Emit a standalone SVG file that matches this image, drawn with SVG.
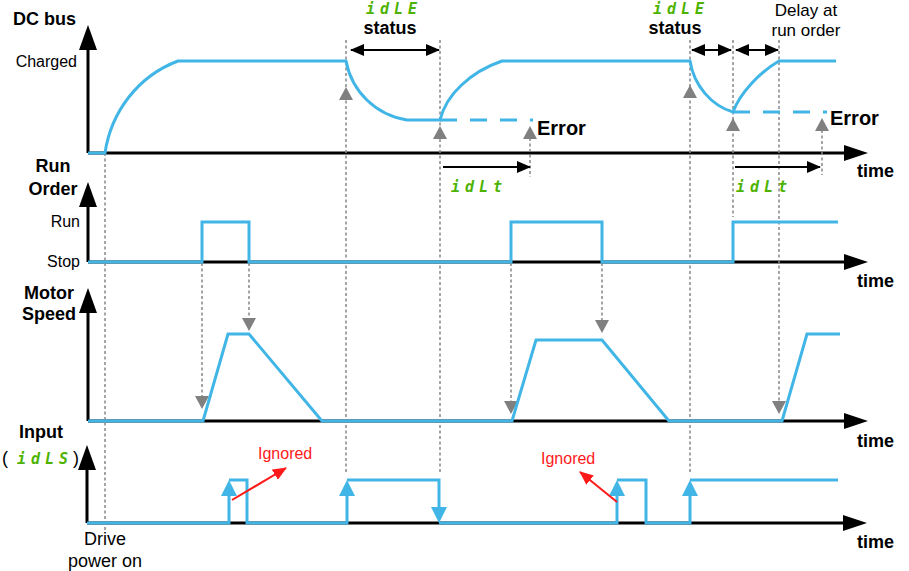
<svg xmlns="http://www.w3.org/2000/svg" xmlns:xlink="http://www.w3.org/1999/xlink" width="909" height="571" viewBox="0 0 909 571">
<style>
text{font-family:"Liberation Sans",Arial,sans-serif;fill:#000}
.b{font-weight:bold;font-size:18px}
.r{font-size:16px}
.rl{font-size:18px}
.err{font-weight:bold;font-size:20px}
.red{fill:#ff1a1a;font-size:16px}
.seg{font-family:"DejaVu Sans Mono","Liberation Mono",monospace;font-style:italic;font-weight:bold;font-size:15px;fill:#4db300;letter-spacing:5px}
.ax{stroke:#000;stroke-width:3;fill:none}
.sig{stroke:#41b6e6;stroke-width:3;fill:none;stroke-linejoin:miter}
.dash{stroke:#41b6e6;stroke-width:3;fill:none;stroke-dasharray:17 13}
.g{stroke:#888;stroke-width:1.5;fill:none;stroke-dasharray:3 2.5}
.arr{stroke:#000;stroke-width:2;fill:none}
.ra{stroke:#ff1a1a;stroke-width:2;fill:none}
.gt{fill:#808080}
.bt{fill:#41b6e6}
.kt{fill:#000}
</style>
<defs>
<polygon id="axv" points="0,0 -9,25 9,25"/>
<polygon id="axh" points="0,0 -24,-8 -24,8"/>
<polygon id="gup" points="0,0 -7,13 7,13"/>
<polygon id="gdn" points="0,0 -7,-13 7,-13"/>
<polygon id="bup" points="0,0 -8,16 8,16"/>
<polygon id="bdn" points="0,0 -8,-16 8,-16"/>
<marker id="ka" markerUnits="userSpaceOnUse" markerWidth="14" markerHeight="12" viewBox="0 0 14 12" refX="13" refY="6" orient="auto-start-reverse"><path d="M0,0 L14,6 L0,12 z" fill="#000"/></marker>
<marker id="ra" markerUnits="userSpaceOnUse" markerWidth="14" markerHeight="12" viewBox="0 0 14 12" refX="13" refY="6" orient="auto"><path d="M0,0 L14,6 L0,12 z" fill="#ff1a1a"/></marker>
</defs>

<!-- axes -->
<g id="axes">
<path class="ax" d="M88,153 V40 M88,153 H850"/>
<use href="#axv" x="88" y="25" class="kt"/><use href="#axh" x="868" y="153" class="kt"/>
<path class="ax" d="M88,262 V200 M88,262 H850"/>
<use href="#axv" x="88" y="182" class="kt"/><use href="#axh" x="868" y="262" class="kt"/>
<path class="ax" d="M88,421 V300 M88,421 H850"/>
<use href="#axv" x="88" y="288" class="kt"/><use href="#axh" x="868" y="421" class="kt"/>
<path class="ax" d="M87,523 V460 M87,523 H850"/>
<use href="#axv" x="87" y="445" class="kt"/><use href="#axh" x="867" y="523" class="kt"/>
</g>

<!-- guide lines -->
<g id="guides">
<path class="g" d="M105,153 V532 M346,40 V473 M440,40 V473 M530,138 V177 M690,40 V473 M733,40 V217 M779,40 V413 M822,130 V175 M202,263 V397 M249,263 V318 M511,263 V402 M602,263 V321"/>
<use href="#gup" x="346" y="87" class="gt"/>
<use href="#gup" x="440" y="126" class="gt"/>
<use href="#gup" x="530" y="126" class="gt"/>
<use href="#gup" x="690" y="85" class="gt"/>
<use href="#gup" x="733" y="118" class="gt"/>
<use href="#gup" x="822" y="118" class="gt"/>
<use href="#gdn" x="202" y="409" class="gt"/>
<use href="#gdn" x="249" y="331" class="gt"/>
<use href="#gdn" x="511" y="414" class="gt"/>
<use href="#gdn" x="602" y="333" class="gt"/>
<use href="#gdn" x="779" y="414" class="gt"/>
</g>

<!-- DC bus signal -->
<g id="dcbus">
<path class="sig" d="M88,153 H105 C111,112 138,76 178,61 H346 C352,92 376,115 407,120 H440 C446,95 470,72 502,61 H690 C694,86 712,106 733,112 C740,93 760,72 779,61 H836"/>
<path class="dash" d="M440,120 H533"/>
<path class="dash" d="M733,112 H827"/>
</g>

<!-- Run order -->
<g id="runorder">
<path class="sig" d="M88,262 H202 V222 H249 V262 H511 V222 H602 V262 H733 V222 H838"/>
</g>

<!-- Motor speed -->
<g id="motor">
<path class="sig" d="M88,421 H203 L228,334 H249 L322,421 H512 L536,340 H602 L669,421 H782 L807,334 H840"/>
</g>

<!-- Input -->
<g id="input">
<path class="sig" d="M87,523 H229 V490 M229,480 H247 V523 H347 V490 M347,480 H439 V515 M439,523 H617 V490 M617,480 H646 V523 H690 V490 M690,480 H838"/>
<use href="#bup" x="229" y="480" class="bt"/>
<use href="#bup" x="347" y="480" class="bt"/>
<use href="#bdn" x="439" y="523" class="bt"/>
<use href="#bup" x="617" y="480" class="bt"/>
<use href="#bup" x="690" y="480" class="bt"/>
</g>

<!-- arrows -->
<g id="connectors">
<path class="arr" d="M351,50 H439" marker-start="url(#ka)" marker-end="url(#ka)"/>
<path class="arr" d="M692,50 H731" marker-start="url(#ka)" marker-end="url(#ka)"/>
<path class="arr" d="M736,50 H778" marker-start="url(#ka)" marker-end="url(#ka)"/>
<path class="arr" d="M443,167 H530" marker-end="url(#ka)"/>
<path class="arr" d="M735,167 H820" marker-end="url(#ka)"/>
<path class="ra" d="M232,500 L286,468" marker-end="url(#ra)"/>
<path class="ra" d="M617,502 L580,472" marker-end="url(#ra)"/>
</g>

<!-- labels -->
<g id="labels">
<text class="b" x="13" y="25">DC bus</text>
<text class="r" x="77" y="67" text-anchor="end">Charged</text>
<text class="b" x="53" y="172" text-anchor="middle">Run</text>
<text class="b" x="53" y="195" text-anchor="middle">Order</text>
<text class="r" x="80" y="227" text-anchor="end">Run</text>
<text class="r" x="80" y="267" text-anchor="end">Stop</text>
<text class="b" x="49" y="299" text-anchor="middle">Motor</text>
<text class="b" x="49" y="320" text-anchor="middle">Speed</text>
<text class="b" x="41" y="438" text-anchor="middle">Input</text>
<text class="rl" x="2" y="464">(</text>
<text class="seg" x="17" y="464">idLS</text>
<text class="rl" x="73" y="464">)</text>
<text class="b" x="857" y="177">time</text>
<text class="b" x="857" y="287">time</text>
<text class="b" x="857" y="447">time</text>
<text class="b" x="857" y="548">time</text>
<text class="seg" x="366" y="14">idLE</text>
<text class="b" x="390" y="34" text-anchor="middle">status</text>
<text class="seg" x="653" y="14">idLE</text>
<text class="b" x="675" y="34" text-anchor="middle">status</text>
<text class="rl" x="806" y="16" text-anchor="middle" style="font-size:17px">Delay at</text>
<text class="rl" x="806" y="36" text-anchor="middle" style="font-size:17px">run order</text>
<text class="err" x="537" y="135">Error</text>
<text class="err" x="830" y="125">Error</text>
<text class="seg" x="451" y="192">idLt</text>
<text class="seg" x="736" y="192">idLt</text>
<text class="red" x="258" y="459">Ignored</text>
<text class="red" x="541" y="464">Ignored</text>
<text class="rl" x="105" y="545" text-anchor="middle">Drive</text>
<text class="rl" x="105" y="567" text-anchor="middle">power on</text>
</g>
</svg>
